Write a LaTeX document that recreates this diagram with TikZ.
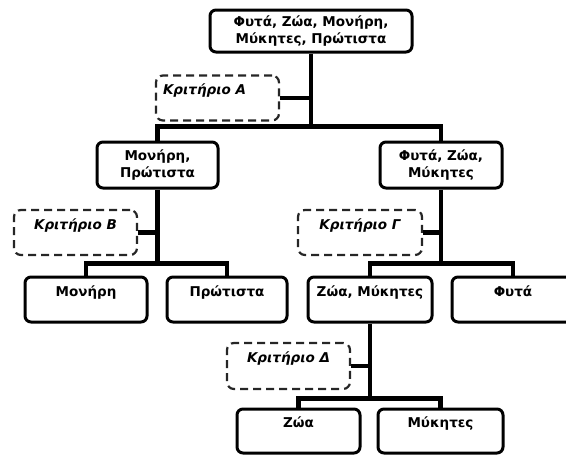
\documentclass[tikz,border=0pt]{standalone}
\usepackage{fontspec}
\setmainfont{DejaVu Sans}
\usetikzlibrary{positioning, calc}

\begin{document}
\begin{tikzpicture}[
    x=1pt, y=-1pt,
    box/.style={rectangle, draw, line width=3pt, rounded corners=6pt, minimum width=122pt, minimum height=45pt, align=center, inner sep=0pt, font=\fontsize{13.5}{17}\selectfont\bfseries},
    crit/.style={rectangle, draw=black!85, dashed, dash pattern=on 8pt off 5pt, line width=2.2pt, rounded corners=7pt, minimum width=123pt, minimum height=45pt, align=center, inner sep=0pt, font=\fontsize{13.5}{17}\selectfont\bfseries\itshape},
    conn/.style={line width=4.5pt}
]
\useasboundingbox (0,0) rectangle (566,456);

% Nodes
\node[box, minimum width=202pt, minimum height=42pt] (all) at (311,31) {Φυτά, Ζώα, Μονήρη,\\Μύκητες, Πρώτιστα};
\node[crit] (critA) at (217.5,98) {Κριτήριο Α\rule{26pt}{0pt}\\\phantom{Κ}};

\node[box, minimum width=121pt, minimum height=46pt] (monprot) at (157.5,165) {Μονήρη,\\Πρώτιστα};
\node[box, minimum height=46pt] (fytzomyk) at (441,165) {Φυτά, Ζώα,\\Μύκητες};

\node[crit] (critB) at (75.5,232.5) {Κριτήριο Β\\\phantom{Κ}};
\node[crit, minimum width=124pt] (critG) at (360,232.5) {Κριτήριο Γ\\\phantom{Κ}};

\node[box] (monera) at (86,299.5) {Μονήρη\\\phantom{Μ}};
\node[box, minimum width=120pt] (protista) at (227,299.5) {Πρώτιστα\\\phantom{Π}};
\node[box, minimum width=124pt] (zomyk) at (370,299.5) {Ζώα, Μύκητες\\\phantom{Ζ}};
\node[box] (fyta) at (513,299.5) {Φυτά\\\phantom{Φ}};

\node[crit, minimum height=46pt] (critD) at (288.5,366) {Κριτήριο Δ\\\phantom{Κ}};

\node[box, minimum width=123pt, minimum height=44pt] (zoa) at (298.5,431) {Ζώα\\\phantom{Ζ}};
\node[box, minimum width=125pt, minimum height=44pt] (mykites) at (440.5,431) {Μύκητες\\\phantom{Μ}};

% Connectors
\draw[conn] (monprot.north) -- ++(0,-14) coordinate (barA) -| (fytzomyk.north);
\draw[conn] (all.south) -- (all.south |- barA);
\draw[conn] (critA.east) -- (critA.east -| all.south);

\draw[conn] (monera.north) -- ++(0,-12) coordinate (barB) -| (protista.north);
\draw[conn] (monprot.south) -- (monprot.south |- barB);
\draw[conn] (critB.east) -- (critB.east -| monprot.south);

\draw[conn] (zomyk.north) -- ++(0,-12) coordinate (barG) -| (fyta.north);
\draw[conn] (fytzomyk.south) -- (fytzomyk.south |- barG);
\draw[conn] (critG.east) -- (critG.east -| fytzomyk.south);

\draw[conn] (zoa.north) -- ++(0,-9) coordinate (barD) -| (mykites.north);
\draw[conn] (zomyk.south) -- (zomyk.south |- barD);
\draw[conn] (critD.east) -- (critD.east -| zomyk.south);

\end{tikzpicture}
\end{document}
